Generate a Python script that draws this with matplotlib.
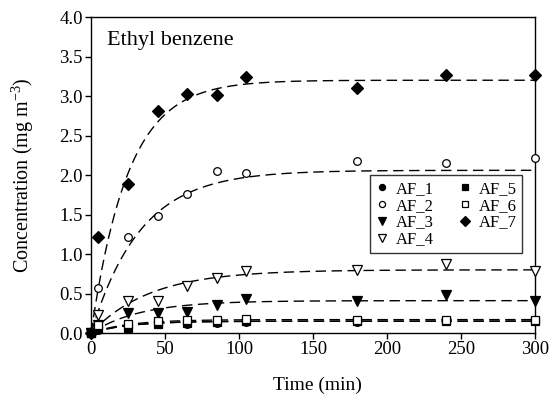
import numpy as np
import matplotlib
matplotlib.use("Agg")
import matplotlib.pyplot as plt

plt.rcParams["font.family"] = ["Liberation Serif", "DejaVu Serif"]
plt.rcParams["mathtext.fontset"] = "custom"
plt.rcParams["mathtext.rm"] = "Liberation Serif"

time = [0, 5, 25, 45, 65, 85, 105, 180, 240, 300]

af_1 = [0.0, 0.04, 0.08, 0.11, 0.12, 0.13, 0.14, 0.14, 0.15, 0.15]
af_2 = [0.0, 0.57, 1.21, 1.48, 1.76, 2.05, 2.03, 2.18, 2.15, 2.22]
af_3 = [0.0, 0.10, 0.25, 0.25, 0.27, 0.35, 0.43, 0.41, 0.48, 0.41]
af_4 = [0.0, 0.23, 0.40, 0.40, 0.59, 0.70, 0.78, 0.80, 0.87, 0.78]
af_5 = [0.0, 0.05, 0.07, 0.12, 0.13, 0.14, 0.15, 0.15, 0.15, 0.15]
af_6 = [0.0, 0.10, 0.12, 0.15, 0.16, 0.17, 0.18, 0.17, 0.17, 0.16]
af_7 = [0.0, 1.22, 1.89, 2.81, 3.02, 3.01, 3.24, 3.10, 3.27, 3.27]

labels = ["AF_1", "AF_2", "AF_3", "AF_4", "AF_5", "AF_6", "AF_7"]
series = [af_1, af_2, af_3, af_4, af_5, af_6, af_7]

# first-order fit parameters: C = plateau * (1 - exp(-rate * t))
plateau = [0.15, 2.06, 0.41, 0.80, 0.15, 0.17, 3.20]
rate = [0.04, 0.03, 0.03, 0.025, 0.04, 0.04, 0.04]

markers = ["o", "o", "v", "v", "s", "s", "D"]
filled = [True, False, True, False, True, False, True]
sizes = [5.5, 5.5, 6.5, 6.5, 5.5, 5.5, 6.5]

fig = plt.figure(figsize=(5.52, 3.96), dpi=100)
ax = fig.add_axes([0.165, 0.159, 0.804, 0.798])

t_fit = np.linspace(0, 300, 400)
for A, k in zip(plateau, rate):
    ax.plot(t_fit, A * (1 - np.exp(-k * t_fit)), color="black", lw=1.0,
            dashes=(7.5, 4), zorder=2)

for lab, y, m, f, s in zip(labels, series, markers, filled, sizes):
    ax.plot(time, y, linestyle="none", marker=m, markersize=s,
            markerfacecolor="black" if f else "white",
            markeredgecolor="black", markeredgewidth=0.9,
            label=lab, clip_on=False, zorder=3)

ax.set_xlim(0, 300)
ax.set_ylim(0, 4.0)
ax.set_xticks([0, 50, 100, 150, 200, 250, 300])
ax.set_yticks(np.arange(0, 4.01, 0.5))
ax.set_yticklabels([f"{v:.1f}" for v in np.arange(0, 4.01, 0.5)])
ax.tick_params(direction="out", length=4, width=1, labelsize=13.5, pad=2)
for sp in ax.spines.values():
    sp.set_linewidth(1.0)

ax.set_xlabel("Time (min)", fontsize=14)
ax.set_ylabel("Concentration (mg m$^{-3}$)", fontsize=14.5)
ax.xaxis.set_label_coords(0.509, -0.137)
ax.yaxis.set_label_coords(-0.124, 0.5)

ax.text(0.036, 0.911, "Ethyl benzene", transform=ax.transAxes,
        fontsize=16, va="baseline", ha="left")

leg = ax.legend(ncol=2, loc="upper left", bbox_to_anchor=(0.628, 0.5),
                borderaxespad=0, frameon=True, fancybox=False,
                edgecolor="black", fontsize=12, handlelength=0.8,
                handletextpad=0.4, columnspacing=1.5, borderpad=0.35,
                labelspacing=0.05, markerscale=0.8)
leg.get_frame().set_linewidth(1.0)

fig.savefig("out.png", dpi=100)
